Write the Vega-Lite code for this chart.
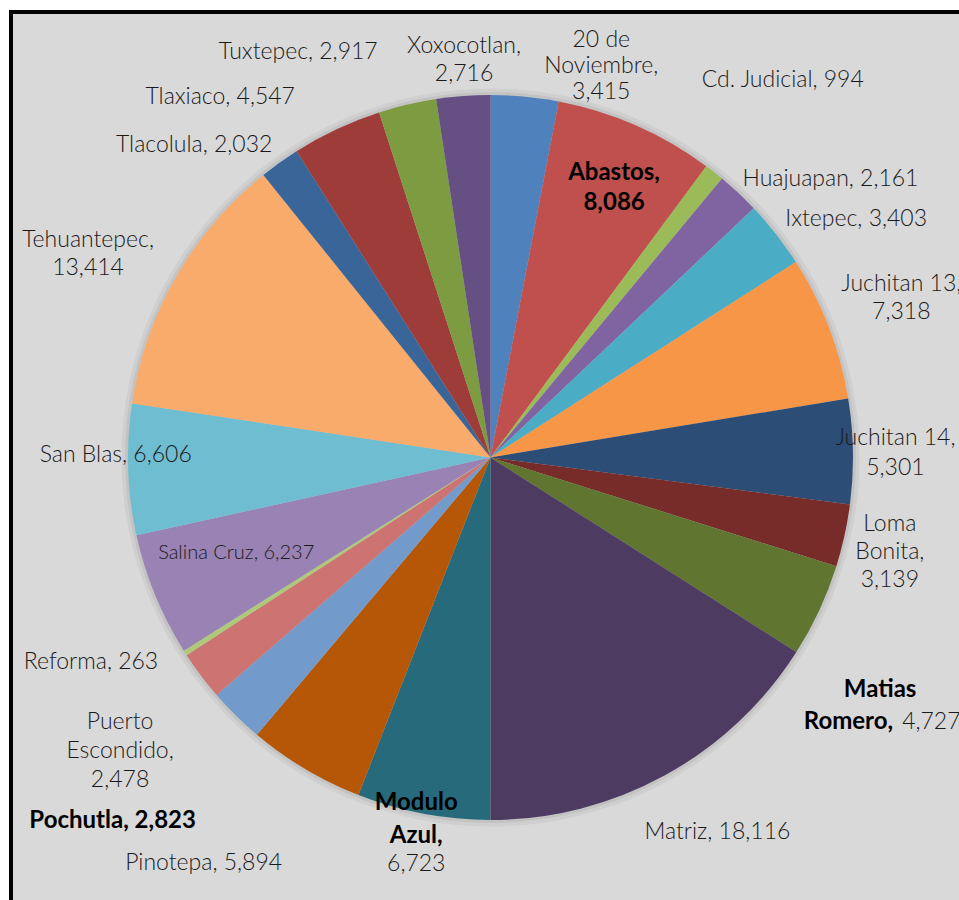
{
  "$schema": "https://vega.github.io/schema/vega-lite/v6.json",
  "width": 959,
  "height": 891,
  "autosize": {"type": "none"},
  "padding": {"left": 11, "top": 12, "right": 0, "bottom": 0},
  "background": "#ffffff",
  "view": {"fill": "#D9D9D9", "stroke": "#000000", "strokeWidth": 4},
  "config": {
    "view": {"fill": "#D9D9D9", "stroke": "#000000", "strokeWidth": 4},
    "style": {"cell": {"fill": "#D9D9D9", "stroke": "#000000", "strokeWidth": 4}},
    "text": {"font": "Lato", "fontSize": 23, "fontWeight": 300, "fill": "#1a1a1a", "align": "center", "baseline": "middle", "lineBreak": "\n", "lineHeight": 28}
  },
  "data": {"values": [
    {"i": 1, "name": "20 de Noviembre", "value": 3415, "lab": "20 de\nNoviembre,\n3,415"},
    {"i": 2, "name": "Abastos", "value": 8086, "bl": "Abastos,\n8,086"},
    {"i": 3, "name": "Cd. Judicial", "value": 994, "lab": "Cd. Judicial, 994"},
    {"i": 4, "name": "Huajuapan", "value": 2161, "lab": "Huajuapan, 2,161"},
    {"i": 5, "name": "Ixtepec", "value": 3403, "lab": "Ixtepec, 3,403"},
    {"i": 6, "name": "Juchitan 13", "value": 7318, "lab": "Juchitan 13,\n7,318"},
    {"i": 7, "name": "Juchitan 14", "value": 5301, "lab": "Juchitan 14,\n5,301"},
    {"i": 8, "name": "Loma Bonita", "value": 3139, "lab": "Loma\nBonita,\n3,139"},
    {"i": 9, "name": "Matias Romero", "value": 4727, "bl": "Matias", "bl2": "Romero,", "lab": "4,727"},
    {"i": 10, "name": "Matriz", "value": 18116, "lab": "Matriz, 18,116"},
    {"i": 11, "name": "Modulo Azul", "value": 6723, "bl": "Modulo\nAzul,", "lab": "6,723"},
    {"i": 12, "name": "Pinotepa", "value": 5894, "lab": "Pinotepa, 5,894"},
    {"i": 13, "name": "Pochutla", "value": 2823, "bl": "Pochutla, 2,823"},
    {"i": 14, "name": "Puerto Escondido", "value": 2478, "lab": "Puerto\nEscondido,\n2,478"},
    {"i": 15, "name": "Reforma", "value": 263, "lab": "Reforma, 263"},
    {"i": 16, "name": "Salina Cruz", "value": 6237, "lab": "Salina Cruz, 6,237"},
    {"i": 17, "name": "San Blas", "value": 6606, "lab": "San Blas, 6,606"},
    {"i": 18, "name": "Tehuantepec", "value": 13414, "lab": "Tehuantepec,\n13,414"},
    {"i": 19, "name": "Tlacolula", "value": 2032, "lab": "Tlacolula, 2,032"},
    {"i": 20, "name": "Tlaxiaco", "value": 4547, "lab": "Tlaxiaco, 4,547"},
    {"i": 21, "name": "Tuxtepec", "value": 2917, "lab": "Tuxtepec, 2,917"},
    {"i": 22, "name": "Xoxocotlan", "value": 2716, "lab": "Xoxocotlan,\n2,716"}
  ]},
  "layer": [
    {"data": {"values": [{}]}, "mark": {"type": "arc", "theta": 0, "theta2": 6.2832, "outerRadius": 369, "fill": "#cfcfcf"}, "encoding": {}},
    {"data": {"values": [{}]}, "mark": {"type": "arc", "theta": 0, "theta2": 6.2832, "outerRadius": 365.5, "fill": "#c3c3c3"}, "encoding": {}},
    {
      "mark": {"type": "arc", "outerRadius": 362.5},
      "encoding": {
        "theta": {"field": "value", "type": "quantitative", "stack": true},
        "order": {"field": "i", "type": "quantitative", "sort": "ascending"},
        "color": {"field": "name", "type": "nominal", "legend": null,
          "scale": {
            "domain": ["20 de Noviembre", "Abastos", "Cd. Judicial", "Huajuapan", "Ixtepec", "Juchitan 13", "Juchitan 14", "Loma Bonita", "Matias Romero", "Matriz", "Modulo Azul", "Pinotepa", "Pochutla", "Puerto Escondido", "Reforma", "Salina Cruz", "San Blas", "Tehuantepec", "Tlacolula", "Tlaxiaco", "Tuxtepec", "Xoxocotlan"],
            "range": ["#4F81BD", "#C0504D", "#9BBB59", "#8064A2", "#4BACC6", "#F79646", "#2C4D75", "#772C2A", "#5F7530", "#4D3B62", "#276A7C", "#B65708", "#729ACA", "#CD7371", "#AFC97A", "#9983B5", "#6FBDD1", "#F9AB6B", "#3A6599", "#9D3C39", "#7D9C42", "#664F82"]
          }}
      }
    },
    {"mark": {"type": "text", "radius": 410, "dx": 72, "dy": -9, "lineHeight": 26},
     "encoding": {"theta": {"field": "value", "type": "quantitative", "stack": true}, "order": {"field": "i", "type": "quantitative"},
       "text": {"condition": {"test": "datum.i == 1", "field": "lab"}, "value": ""}}},
    {"mark": {"type": "text", "radius": 300, "dx": 3, "dy": -10, "lineHeight": 30, "fontWeight": "bold", "fill": "#000000", "fontSize": 24},
     "encoding": {"theta": {"field": "value", "type": "quantitative", "stack": true}, "order": {"field": "i", "type": "quantitative"},
       "text": {"condition": {"test": "datum.i == 2", "field": "bl"}, "value": ""}}},
    {"mark": {"type": "text", "radius": 475, "dx": -1, "dy": -4},
     "encoding": {"theta": {"field": "value", "type": "quantitative", "stack": true}, "order": {"field": "i", "type": "quantitative"},
       "text": {"condition": {"test": "datum.i == 3", "field": "lab"}, "value": ""}}},
    {"mark": {"type": "text", "radius": 430, "dx": 46, "dy": 35},
     "encoding": {"theta": {"field": "value", "type": "quantitative", "stack": true}, "order": {"field": "i", "type": "quantitative"},
       "text": {"condition": {"test": "datum.i == 4", "field": "lab"}, "value": ""}}},
    {"mark": {"type": "text", "radius": 430, "dx": 27, "dy": 26},
     "encoding": {"theta": {"field": "value", "type": "quantitative", "stack": true}, "order": {"field": "i", "type": "quantitative"},
       "text": {"condition": {"test": "datum.i == 5", "field": "lab"}, "value": ""}}},
    {"mark": {"type": "text", "radius": 440, "dx": 0, "dy": -16},
     "encoding": {"theta": {"field": "value", "type": "quantitative", "stack": true}, "order": {"field": "i", "type": "quantitative"},
       "text": {"condition": {"test": "datum.i == 6", "field": "lab"}, "value": ""}}},
    {"mark": {"type": "text", "radius": 405, "dx": 0, "dy": -13, "lineHeight": 30},
     "encoding": {"theta": {"field": "value", "type": "quantitative", "stack": true}, "order": {"field": "i", "type": "quantitative"},
       "text": {"condition": {"test": "datum.i == 7", "field": "lab"}, "value": ""}}},
    {"mark": {"type": "text", "radius": 410, "dx": -1, "dy": -22},
     "encoding": {"theta": {"field": "value", "type": "quantitative", "stack": true}, "order": {"field": "i", "type": "quantitative"},
       "text": {"condition": {"test": "datum.i == 8", "field": "lab"}, "value": ""}}},
    {"mark": {"type": "text", "radius": 454, "dx": -22, "dy": 41, "fontWeight": "bold", "fill": "#000000", "fontSize": 24},
     "encoding": {"theta": {"field": "value", "type": "quantitative", "stack": true}, "order": {"field": "i", "type": "quantitative"},
       "text": {"condition": {"test": "datum.i == 9", "field": "bl"}, "value": ""}}},
    {"mark": {"type": "text", "radius": 454, "dx": -9, "dy": 73, "align": "right", "fontWeight": "bold", "fill": "#000000", "fontSize": 24},
     "encoding": {"theta": {"field": "value", "type": "quantitative", "stack": true}, "order": {"field": "i", "type": "quantitative"},
       "text": {"condition": {"test": "datum.i == 9", "field": "bl2"}, "value": ""}}},
    {"mark": {"type": "text", "radius": 454, "dx": 0, "dy": 73, "align": "left"},
     "encoding": {"theta": {"field": "value", "type": "quantitative", "stack": true}, "order": {"field": "i", "type": "quantitative"},
       "text": {"condition": {"test": "datum.i == 9", "field": "lab"}, "value": ""}}},
    {"mark": {"type": "text", "radius": 430, "dx": 20, "dy": -2},
     "encoding": {"theta": {"field": "value", "type": "quantitative", "stack": true}, "order": {"field": "i", "type": "quantitative"},
       "text": {"condition": {"test": "datum.i == 10", "field": "lab"}, "value": ""}}},
    {"mark": {"type": "text", "radius": 400, "dx": 0, "dy": -48, "lineHeight": 33, "fontWeight": "bold", "fill": "#000000", "fontSize": 24},
     "encoding": {"theta": {"field": "value", "type": "quantitative", "stack": true}, "order": {"field": "i", "type": "quantitative"},
       "text": {"condition": {"test": "datum.i == 11", "field": "bl"}, "value": ""}}},
    {"mark": {"type": "text", "radius": 400, "dx": 0, "dy": 13},
     "encoding": {"theta": {"field": "value", "type": "quantitative", "stack": true}, "order": {"field": "i", "type": "quantitative"},
       "text": {"condition": {"test": "datum.i == 11", "field": "lab"}, "value": ""}}},
    {"mark": {"type": "text", "radius": 440, "dx": -62, "dy": 27},
     "encoding": {"theta": {"field": "value", "type": "quantitative", "stack": true}, "order": {"field": "i", "type": "quantitative"},
       "text": {"condition": {"test": "datum.i == 12", "field": "lab"}, "value": ""}}},
    {"mark": {"type": "text", "radius": 440, "dx": -69, "dy": 50, "fontWeight": "bold", "fill": "#000000", "fontSize": 24},
     "encoding": {"theta": {"field": "value", "type": "quantitative", "stack": true}, "order": {"field": "i", "type": "quantitative"},
       "text": {"condition": {"test": "datum.i == 13", "field": "bl"}, "value": ""}}},
    {"mark": {"type": "text", "radius": 440, "dx": -19, "dy": 0, "lineHeight": 29},
     "encoding": {"theta": {"field": "value", "type": "quantitative", "stack": true}, "order": {"field": "i", "type": "quantitative"},
       "text": {"condition": {"test": "datum.i == 14", "field": "lab"}, "value": ""}}},
    {"mark": {"type": "text", "radius": 440, "dx": -29, "dy": -33},
     "encoding": {"theta": {"field": "value", "type": "quantitative", "stack": true}, "order": {"field": "i", "type": "quantitative"},
       "text": {"condition": {"test": "datum.i == 15", "field": "lab"}, "value": ""}}},
    {"mark": {"type": "text", "radius": 290, "dx": 14, "dy": -15, "fontSize": 20},
     "encoding": {"theta": {"field": "value", "type": "quantitative", "stack": true}, "order": {"field": "i", "type": "quantitative"},
       "text": {"condition": {"test": "datum.i == 16", "field": "lab"}, "value": ""}}},
    {"mark": {"type": "text", "radius": 375, "dx": 0, "dy": -15},
     "encoding": {"theta": {"field": "value", "type": "quantitative", "stack": true}, "order": {"field": "i", "type": "quantitative"},
       "text": {"condition": {"test": "datum.i == 17", "field": "lab"}, "value": ""}}},
    {"mark": {"type": "text", "radius": 440, "dx": -21, "dy": 2},
     "encoding": {"theta": {"field": "value", "type": "quantitative", "stack": true}, "order": {"field": "i", "type": "quantitative"},
       "text": {"condition": {"test": "datum.i == 18", "field": "lab"}, "value": ""}}},
    {"mark": {"type": "text", "radius": 420, "dx": -52, "dy": 29},
     "encoding": {"theta": {"field": "value", "type": "quantitative", "stack": true}, "order": {"field": "i", "type": "quantitative"},
       "text": {"condition": {"test": "datum.i == 19", "field": "lab"}, "value": ""}}},
    {"mark": {"type": "text", "radius": 420, "dx": -92, "dy": 20},
     "encoding": {"theta": {"field": "value", "type": "quantitative", "stack": true}, "order": {"field": "i", "type": "quantitative"},
       "text": {"condition": {"test": "datum.i == 20", "field": "lab"}, "value": ""}}},
    {"mark": {"type": "text", "radius": 420, "dx": -96, "dy": 3},
     "encoding": {"theta": {"field": "value", "type": "quantitative", "stack": true}, "order": {"field": "i", "type": "quantitative"},
       "text": {"condition": {"test": "datum.i == 21", "field": "lab"}, "value": ""}}},
    {"mark": {"type": "text", "radius": 405, "dx": 4, "dy": -8},
     "encoding": {"theta": {"field": "value", "type": "quantitative", "stack": true}, "order": {"field": "i", "type": "quantitative"},
       "text": {"condition": {"test": "datum.i == 22", "field": "lab"}, "value": ""}}}
  ]
}
